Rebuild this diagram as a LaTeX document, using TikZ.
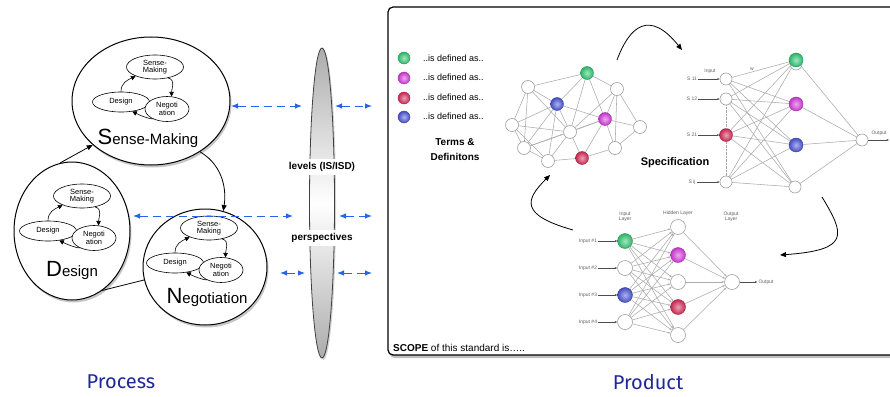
\documentclass[tikz,border=0pt]{standalone}
\usepackage{fontspec}
\setmainfont{Liberation Sans}
\newfontfamily\handfont{Fira Sans}
\usetikzlibrary{shapes.geometric,arrows.meta,shadows}

\definecolor{dashblue}{RGB}{40,100,235}
\definecolor{titleblue}{RGB}{30,40,150}
\definecolor{bgreen}{RGB}{50,200,115}
\definecolor{bmagenta}{RGB}{215,60,220}
\definecolor{bred}{RGB}{215,45,90}
\definecolor{bblue}{RGB}{75,85,215}

\pgfdeclarelayer{back}
\pgfdeclarelayer{mid}
\pgfsetlayers{back,mid,main}

% three linked mini-ellipses inside each big ellipse
\newcommand\triad[3]{%
  \node[smallell, minimum width=57pt, minimum height=24pt] (#1s) at (#2,#3) {Sense-\\Making};
  \node[smallell, minimum width=57pt, minimum height=20pt] (#1d) at (#2-34,#3+35) {Design};
  \node[smallell, minimum width=44pt, minimum height=25pt] (#1n) at (#2+12,#3+42) {Negoti\\ation};
  \draw[tri] (#1d.north) .. controls +(0,-9) and +(-8,4) .. (#1s.205);
  \draw[tri] (#1s.-40) .. controls +(8,2) and +(0,-8) .. (#1n.70);
  \draw[tri] (#1n.215) .. controls +(-5,0) and +(6,3) .. (#1d.-40);
}

\begin{document}
\begin{tikzpicture}[x=1pt,y=-1pt,
  bigell/.style={ellipse, draw, line width=1pt, fill=white, inner sep=0pt,
    drop shadow={opacity=0.45, shadow xshift=1.5pt, shadow yshift=-2.5pt}},
  smallell/.style={ellipse, draw, line width=0.6pt, fill=white, inner sep=0pt,
    align=center, font=\fontsize{7.5}{7.5}\selectfont},
  tri/.style={line width=0.6pt, -{Triangle[length=4.5pt,width=4.5pt]}},
  flow/.style={line width=0.8pt, -{Triangle[length=6pt,width=5pt]}},
  blued/.style={dashblue, line width=1pt, dash pattern=on 8pt off 5pt,
    {Latex[length=7pt,width=5.5pt]}-{Latex[length=7pt,width=5.5pt]}},
  wn/.style={circle, draw=gray!75, fill=white, line width=0.6pt, inner sep=0pt, minimum size=#1},
  wn/.default=13pt,
  cn/.style={circle, draw=#1!75!black, line width=0.4pt, inner color=#1!45!white,
    outer color=#1!90!black, inner sep=0pt, minimum size=13pt},
  edge/.style={gray!65, line width=0.55pt},
  tinytext/.style={font=\fontsize{5}{5.5}\selectfont, text=gray!75!black, inner sep=1pt},
  lenslabel/.style={fill=white, inner sep=3pt, minimum width=86pt, font=\bfseries\fontsize{10}{12}\selectfont},
  legend/.style={font=\fontsize{9}{10}\selectfont, anchor=west, inner sep=0pt},
  bigtitle/.style={font=\handfont\fontsize{20}{22}\selectfont, text=titleblue},
  smallhead/.style={gray!60!black, line width=0.4pt, -{Stealth[length=2.5pt,width=2pt]}},
]
\useasboundingbox (0,0) rectangle (890,396);
\clip (0,0) rectangle (890,396);

% ---------------- process side ----------------
\node[bigell, minimum width=158pt, minimum height=128pt] (smE) at (151,101) {};
\node[bigell, minimum width=116pt, minimum height=138pt] (dsE) at (72,231) {};
\node[bigell, minimum width=124pt, minimum height=116pt] (ngE) at (205,267) {};

\triad{a}{155}{67}
\triad{b}{82}{196}
\triad{c}{209}{228}

\node (smL) at (148,138) {{\fontsize{22}{22}\selectfont S}{\fontsize{15}{15}\selectfont ense-Making}};
\node (dsL) at (72,270) {{\fontsize{22}{22}\selectfont D}{\fontsize{15}{15}\selectfont esign}};
\node (ngL) at (207,297) {{\fontsize{22}{22}\selectfont N}{\fontsize{15}{15}\selectfont egotiation}};

\draw[flow] (dsE.100) -- (smE.217);
\draw[flow] (smE.-46) .. controls +(25,15) and +(3,-18) .. (ngE.72);
\draw[line width=0.8pt] (dsE.-63) -- (ngE.192);

% lens between process and product
\node[ellipse, draw=black!75, line width=0.8pt, minimum width=25pt, minimum height=310pt,
  top color=gray!65, bottom color=gray!65, middle color=white,
  drop shadow={opacity=0.35, shadow xshift=1.5pt, shadow yshift=-2pt}] (lens) at (322,203) {};
\node[lenslabel] (lvl) at (322,167) {levels (IS/ISD)};
\node[lenslabel] (psp) at (322,238) {perspectives};

% dashed links across the lens
\coordinate (r1a) at (231,106); \coordinate (r1b) at (302,106);
\coordinate (r1c) at (335,106); \coordinate (r1d) at (372,106);
\coordinate (r2a) at (133,216); \coordinate (r2b) at (293,216);
\coordinate (r2c) at (339,216); \coordinate (r2d) at (372,216);
\coordinate (r3a) at (280,273); \coordinate (r3b) at (305,273);
\coordinate (r3c) at (337,273); \coordinate (r3d) at (372,273);
\draw[blued] (r1a) -- (r1b);
\draw[blued] (r1c) -- (r1d);
\draw[blued] (r2a) -- (r2b);
\draw[blued] (r2c) -- (r2d);
\draw[blued] (r3a) -- (r3b);
\draw[blued] (r3c) -- (r3d);

% ---------------- product side ----------------
\begin{pgfonlayer}{back}
\node[draw, line width=1.2pt, rounded corners=5pt, fill=white, minimum width=517pt, minimum height=348pt,
  drop shadow={opacity=0.5, shadow xshift=1.5pt, shadow yshift=-3pt}] (prod) at (646.5,181) {};
\end{pgfonlayer}

% legend
\node[cn=bgreen, minimum size=12pt] (lg1) at (404,58) {};
\node[cn=bmagenta, minimum size=12pt] (lg2) at (404,78) {};
\node[cn=bred, minimum size=12pt] (lg3) at (404,98) {};
\node[cn=bblue, minimum size=12pt] (lg4) at (404,117) {};
\node[legend] (lt1) at (423,58) {..is defined as..};
\node[legend] (lt2) at (423,77) {..is defined as..};
\node[legend] (lt3) at (423,97) {..is defined as..};
\node[legend] (lt4) at (423,116) {..is defined as..};
\node[font=\bfseries\fontsize{10}{15}\selectfont, align=center] (terms) at (455,150) {Terms \&\\Definitons};

% terms network
\node[wn] (ta) at (528,87) {};
\node[cn=bgreen] (tg) at (587,73) {};
\node[wn] (tb) at (617,89) {};
\node[cn=bblue] (tu) at (557,104) {};
\node[cn=bmagenta] (tm) at (605,119) {};
\node[wn] (tr) at (640,127) {};
\node[wn] (tc) at (570,132) {};
\node[wn] (td) at (524,148) {};
\node[wn] (te) at (548,161) {};
\node[cn=bred] (tR) at (582,158) {};
\node[wn] (tf) at (615,148) {};
\node[wn] (tL) at (512,125) {};
\begin{pgfonlayer}{mid}
\foreach \p/\q in {ta/tg,ta/tu,ta/td,ta/tL,ta/tc,tg/tu,tg/tb,tg/tc,tg/tm,tb/tm,tb/tr,tb/tf,tb/tc,
  tu/tc,tu/td,tu/te,tu/tL,tu/tm,tm/tc,tm/tr,tm/tf,tm/tR,tm/td,tc/tR,tc/te,tc/tL,td/te,td/tL,td/tc,
  te/tR,tR/tf,tf/tr,tL/te}
  \draw[edge] (\p) -- (\q);
\end{pgfonlayer}

% specification network
\node[wn=12pt] (i1) at (726,79) {};
\node[wn=12pt] (i2) at (726,99) {};
\node[cn=bred] (i3) at (726,135) {};
\node[wn=12pt] (i4) at (726,182) {};
\node[wn=12pt] (h4) at (795,187) {};
\node[wn=12pt] (h0) at (796,64) {};
\node[cn=bgreen, minimum size=14pt] (h1) at (796,60) {};
\node[cn=bmagenta, minimum size=14pt] (h2) at (796,104) {};
\node[cn=bblue, minimum size=14pt] (h3) at (796,145) {};
\node[wn=12pt] (so) at (862,140) {};
\begin{pgfonlayer}{mid}
\foreach \i in {i1,i2,i3,i4}
  \foreach \h in {h1,h2,h3,h4}
    \draw[edge] (\i.center) -- (\h.center);
\foreach \h in {h1,h2,h3,h4}
  \draw[edge] (\h.center) -- (so.center);
\end{pgfonlayer}
\draw[gray!70, densely dotted] (i2.south) -- (i3.north);
\draw[gray!70, densely dotted] (i3.south) -- (i4.north);
\node[tinytext] (s1) at (692,79) {S 11};
\node[tinytext] (s2) at (692,99) {S 12};
\node[tinytext] (s3) at (692,135) {S 21};
\node[tinytext] (s4) at (692,182) {S ij};
\foreach \s/\i in {s1/i1,s2/i2,s3/i3,s4/i4}
  \draw[smallhead] (\s) -- (\i);
\node[tinytext] (inlbl) at (710,71) {Input};
\node[tinytext] (wlbl) at (752,69) {w};
\node[tinytext] (outlbl) at (879,133) {Output};
\coordinate (soend) at (889,140);
\draw[smallhead] (so) -- (soend);
\node[font=\bfseries\fontsize{11}{12}\selectfont] (spec) at (675,163) {Specification};

% layered network
\node[cn=bgreen, minimum size=15pt] (bi1) at (625,241) {};
\node[wn=15pt] (bi2) at (625,268) {};
\node[cn=bblue, minimum size=15pt] (bi3) at (625,295) {};
\node[wn=15pt] (bi4) at (625,322) {};
\node[wn=15pt] (bh1) at (678,227) {};
\node[cn=bmagenta, minimum size=15pt] (bh2) at (678,255) {};
\node[wn=15pt] (bh3) at (678,282) {};
\node[cn=bred, minimum size=15pt] (bh4) at (678,307) {};
\node[wn=15pt] (bh5) at (678,335) {};
\node[wn=15pt] (bo) at (732,282) {};
\foreach \i in {bi1,bi2,bi3,bi4}
  \foreach \h in {bh1,bh2,bh3,bh4,bh5}
    \draw[edge, -{Stealth[length=2.5pt,width=2pt]}] (\i) -- (\h);
\foreach \h in {bh1,bh2,bh3,bh4,bh5}
  \draw[edge, -{Stealth[length=2.5pt,width=2pt]}] (\h) -- (bo);
\node[tinytext, align=center] (ilay) at (625,217) {Input\\Layer};
\node[tinytext] (hlay) at (678,213) {Hidden Layer};
\node[tinytext, align=center] (olay) at (731,217) {Output\\Layer};
\node[tinytext] (in1) at (588,241) {Input \#1};
\node[tinytext] (in2) at (588,268) {Input \#2};
\node[tinytext] (in3) at (588,295) {Input \#3};
\node[tinytext] (in4) at (588,322) {Input \#4};
\foreach \s/\i in {in1/bi1,in2/bi2,in3/bi3,in4/bi4}
  \draw[smallhead] (\s) -- (\i);
\node[tinytext] (outb) at (766,282) {Output};
\draw[smallhead] (bo) -- (outb);

% cycle between the three views
\coordinate (c1a) at (617,60); \coordinate (c1b) at (682,50);
\coordinate (c2a) at (822,197); \coordinate (c2b) at (780,255);
\coordinate (c3a) at (573,230); \coordinate (c3b) at (550,175);
\draw[flow] (c1a) .. controls (630,25) and (650,10) .. (c1b);
\draw[flow] (c2a) .. controls (845,235) and (850,250) .. (c2b);
\draw[flow] (c3a) .. controls (520,215) and (525,200) .. (c3b);

\node[anchor=west, font=\fontsize{10}{12}\selectfont, inner sep=0pt] (scope) at (393,348)
  {\textbf{SCOPE} of this standard is…..};

% captions
\node[bigtitle] (proc) at (121,382) {Process};
\node[bigtitle] (prodt) at (648,382) {Product};
\end{tikzpicture}
\end{document}
